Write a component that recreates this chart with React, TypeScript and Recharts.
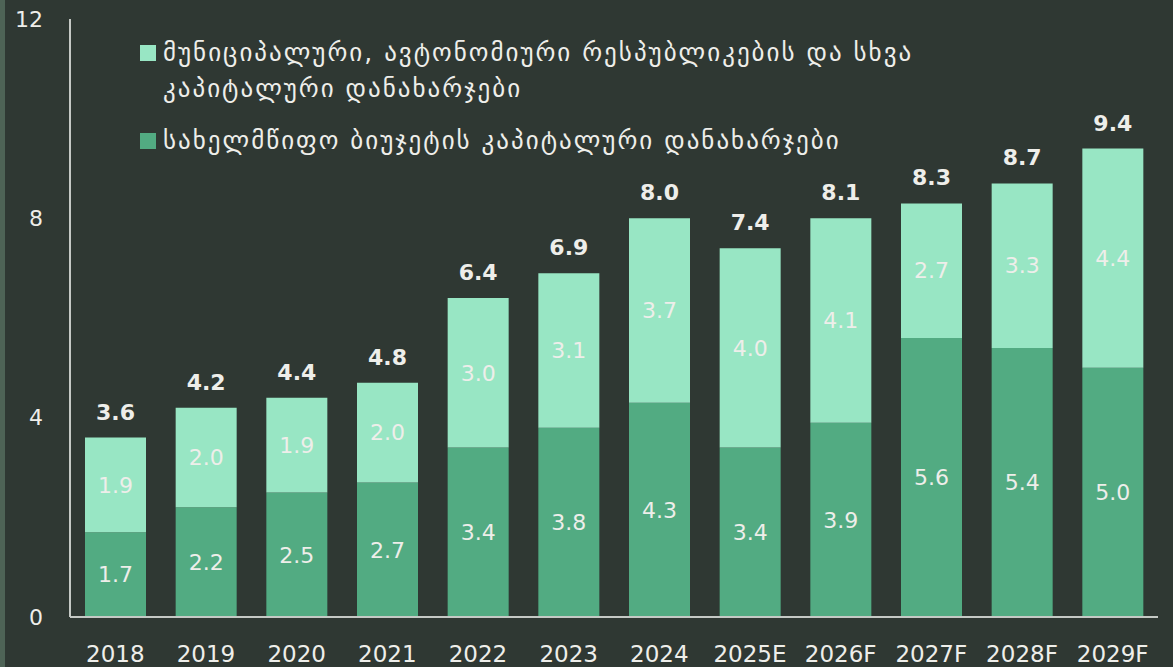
import { Bar, BarChart, LabelList, XAxis, YAxis } from "recharts"

const years = ["2018", "2019", "2020", "2021", "2022", "2023", "2024", "2025E", "2026F", "2027F", "2028F", "2029F"]
const stateCapex = [1.7, 2.2, 2.5, 2.7, 3.4, 3.8, 4.3, 3.4, 3.9, 5.6, 5.4, 5.0]
const localCapex = [1.9, 2.0, 1.9, 2.0, 3.0, 3.1, 3.7, 4.0, 4.1, 2.7, 3.3, 4.4]
const totals = [3.6, 4.2, 4.4, 4.8, 6.4, 6.9, 8.0, 7.4, 8.1, 8.3, 8.7, 9.4]
const yTicks = [0, 4, 8, 12]

const localName = "მუნიციპალური, ავტონომიური რესპუბლიკების და სხვა\nკაპიტალური დანახარჯები"
const stateName = "სახელმწიფო ბიუჯეტის კაპიტალური დანახარჯები"

const data = years.map((year, i) => ({
  year,
  state: stateCapex[i],
  local: localCapex[i],
  total: totals[i],
}))

const BG = "#2f3833"
const LIGHT = "#98e6c4"
const DARK = "#52ab82"
const TEXT = "#eeeeea"
const AXIS = "#c5c9c5"
const FONT = "'DejaVu Sans', 'Noto Sans', sans-serif"

function LegendBox() {
  const items = [
    { name: localName, color: LIGHT },
    { name: stateName, color: DARK },
  ]
  return (
    <div style={{ position: "absolute", top: 35, left: 140, fontFamily: FONT, color: TEXT, fontSize: 25, letterSpacing: 2 }}>
      {items.map((it) => (
        <div key={it.name} style={{ display: "flex", alignItems: "flex-start", marginBottom: 16, lineHeight: "36px" }}>
          <span style={{ width: 16, height: 16, background: it.color, marginTop: 10, marginRight: 7, flexShrink: 0 }} />
          <span style={{ whiteSpace: "pre-line" }}>{it.name}</span>
        </div>
      ))}
    </div>
  )
}

export default function App() {
  return (
    <div style={{ position: "absolute", left: 0, top: 0, width: 1173, height: 667, background: BG, overflow: "hidden" }}>
      <div style={{ position: "absolute", left: 0, top: 0, width: 5, height: 667, background: "#4e6356" }} />
      <BarChart width={1173} height={667} data={data} margin={{ top: 19, right: 15, left: 0, bottom: 0 }} barSize={61}>
        <XAxis
          dataKey="year"
          height={50}
          tickLine={false}
          tickSize={0}
          tickMargin={29}
          axisLine={{ stroke: AXIS, strokeWidth: 2 }}
          tick={{ fill: TEXT, fontSize: 23, fontFamily: FONT }}
          interval={0}
        />
        <YAxis
          width={70}
          domain={[0, 12]}
          ticks={yTicks}
          tickLine={false}
          tickSize={0}
          tickMargin={27}
          axisLine={{ stroke: AXIS, strokeWidth: 2 }}
          tick={{ fill: TEXT, fontSize: 22, fontFamily: FONT }}
        />
        <Bar dataKey="state" name={stateName} stackId="a" fill={DARK} isAnimationActive={false}>
          <LabelList dataKey="state" position="center" fill={TEXT} fontSize={22} fontFamily={FONT} formatter={(v: number) => v.toFixed(1)} />
        </Bar>
        <Bar dataKey="local" name={localName} stackId="a" fill={LIGHT} isAnimationActive={false}>
          <LabelList dataKey="local" position="center" fill={TEXT} fontSize={22} fontFamily={FONT} formatter={(v: number) => v.toFixed(1)} />
          <LabelList dataKey="total" position="top" offset={18} fill={TEXT} fontSize={22} fontWeight="bold" fontFamily={FONT} formatter={(v: number) => v.toFixed(1)} />
        </Bar>
      </BarChart>
      <LegendBox />
    </div>
  )
}
